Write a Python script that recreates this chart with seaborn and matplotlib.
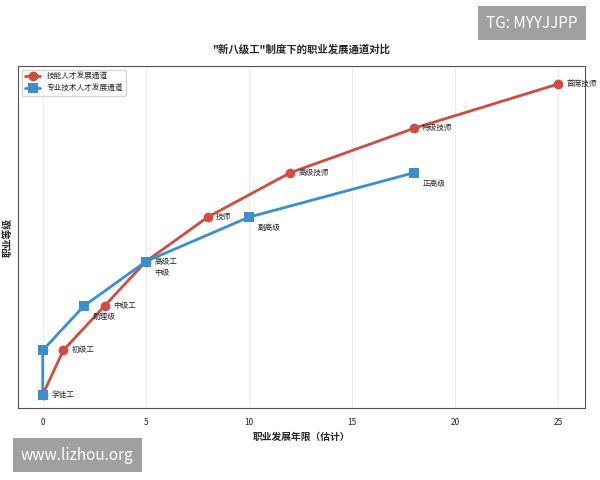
import matplotlib
matplotlib.use('Agg')
import matplotlib.pyplot as plt
import seaborn as sns
import pandas as pd

skill_years = [0, 1, 3, 5, 8, 12, 18, 25]
skill_levels = [1, 2, 3, 4, 5, 6, 7, 8]
skill_labels = ['学徒工', '初级工', '中级工', '高级工', '技师', '高级技师', '特级技师', '首席技师']

tech_years = [0, 0, 2, 5, 10, 18]
tech_levels = [1, 2, 3, 4, 5, 6]
tech_labels = ['', '', '助理级', '中级', '副高级', '正高级']

sns.set_style('whitegrid')
plt.rcParams['font.family'] = ['Noto Sans CJK SC', 'DejaVu Sans']

fig, ax = plt.subplots(figsize=(6, 4.8), dpi=100)
df1 = pd.DataFrame({'x': skill_years, 'y': skill_levels})
df2 = pd.DataFrame({'x': tech_years, 'y': tech_levels})
sns.lineplot(data=df1, x='x', y='y', ax=ax, color='#d24b3e', marker='o', markersize=7,
             linewidth=2, markeredgewidth=0, label='技能人才发展通道', sort=False, estimator=None)
sns.lineplot(data=df2, x='x', y='y', ax=ax, color='#3a8fcf', marker='s', markersize=7,
             linewidth=2, markeredgewidth=0, label='专业技术人才发展通道', sort=False, estimator=None)

for x, y, t in zip(skill_years, skill_levels, skill_labels):
    ax.annotate(t, (x, y), xytext=(6, 0), textcoords='offset points', fontsize=5.5, va='center')
for x, y, t in zip(tech_years, tech_levels, tech_labels):
    if t:
        ax.annotate(t, (x, y), xytext=(6, -8), textcoords='offset points', fontsize=5.5, va='center')

ax.set_xlim(-1.2, 26.3)
ax.set_ylim(0.7, 8.4)
ax.set_yticks([])
ax.grid(axis='y', visible=False)
ax.grid(axis='x', color='#eeeeee')
ax.tick_params(labelsize=6)
for s in ax.spines.values():
    s.set_color('#555555')
ax.set_xlabel('职业发展年限（估计）', fontsize=7, fontweight='bold')
ax.set_ylabel('职业等级', fontsize=7, fontweight='bold')
ax.set_title('"新八级工"制度下的职业发展通道对比', fontsize=7.5, pad=10, fontweight='bold')
ax.legend(loc='upper left', fontsize=5.5, frameon=True)

plt.subplots_adjust(left=0.03, right=0.975, top=0.862, bottom=0.15)
fig.text(0.963, 0.952, 'TG: MYYJJPP', fontsize=11, color='white', ha='right', va='center',
         bbox=dict(facecolor='#a0a0a0', edgecolor='none', pad=6))
fig.text(0.035, 0.052, 'www.lizhou.org', fontsize=11, color='white', ha='left', va='center',
         bbox=dict(facecolor='#a0a0a0', edgecolor='none', pad=6))
fig.savefig('out.png', dpi=100)
